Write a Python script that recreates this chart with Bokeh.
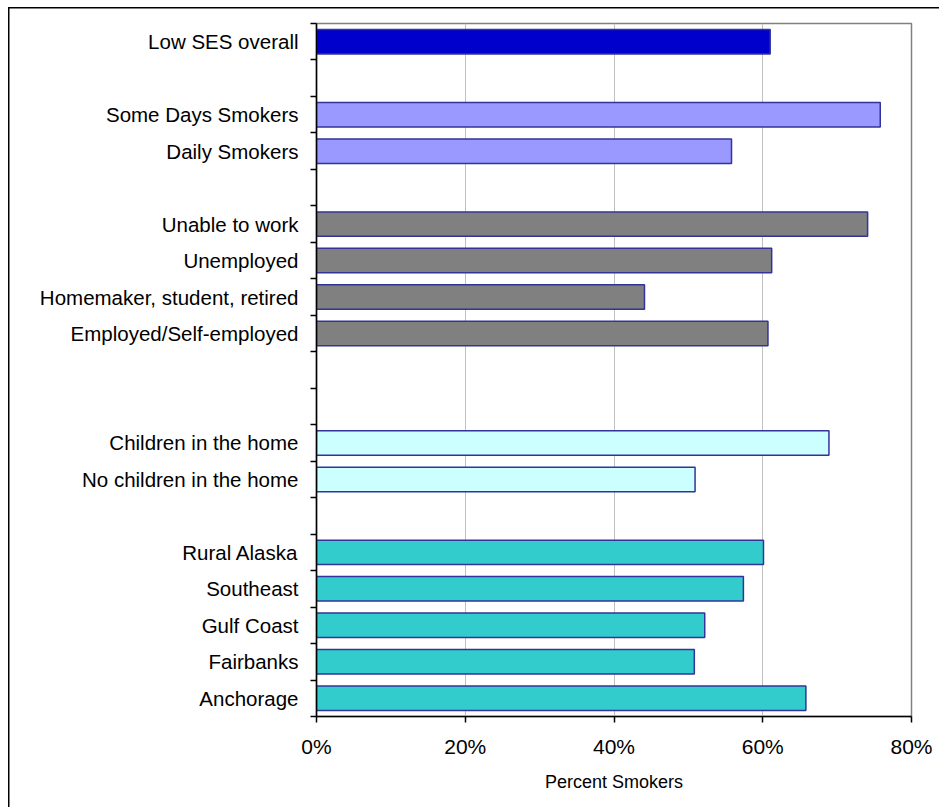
from bokeh.plotting import figure
from bokeh.models import Range1d, FixedTicker, PrintfTickFormatter, ColumnDataSource
from bokeh.embed import file_html
from bokeh.resources import INLINE

# Percent of low-SES Alaskan adults who smoke, by subgroup
overall_labels = ["Low SES overall"]
overall_pct = [61.0]

frequency_labels = ["Some Days Smokers", "Daily Smokers"]
frequency_pct = [75.8, 55.8]

employment_labels = ["Unable to work", "Unemployed",
                     "Homemaker, student, retired", "Employed/Self-employed"]
employment_pct = [74.1, 61.2, 44.1, 60.7]

children_labels = ["Children in the home", "No children in the home"]
children_pct = [68.9, 50.9]

region_labels = ["Rural Alaska", "Southeast", "Gulf Coast", "Fairbanks", "Anchorage"]
region_pct = [60.1, 57.4, 52.2, 50.8, 65.8]

x_ticks = [0, 20, 40, 60, 80]

# group order, fill colour, and number of empty rows that follow each group
groups = [
    (overall_labels, overall_pct, "#0000CC", 1),
    (frequency_labels, frequency_pct, "#9999FF", 1),
    (employment_labels, employment_pct, "#808080", 2),
    (children_labels, children_pct, "#CCFFFF", 1),
    (region_labels, region_pct, "#33CCCC", 0),
]

rows, vals, labels, colors = [], [], [], []
r = 0
for labs, pcts, col, gap in groups:
    for lab, v in zip(labs, pcts):
        rows.append(r + 0.5)
        vals.append(v)
        labels.append(lab)
        colors.append(col)
        r += 1
    r += gap
n_rows = r

src = ColumnDataSource(dict(y=rows, right=vals, color=colors, label=labels))

FONT = "Liberation Sans"

p = figure(width=939, height=807, output_backend="svg", toolbar_location=None,
           x_range=Range1d(0, 80), y_range=Range1d(n_rows, 0),
           min_border_left=316, min_border_right=28, min_border_top=23,
           min_border_bottom=91)
p.background_fill_color = "white"
# transparent surround so the page background (with the chart-area border) shows through
p.border_fill_color = None
p.styles = {
    "background": ("linear-gradient(#000, #000) 8px 7px / 1.5px 100% no-repeat, "
                   "linear-gradient(#000, #000) 8px 7px / 100% 1.5px no-repeat, #fff"),
}
p.outline_line_color = "#808080"
p.outline_line_width = 1.5

p.hbar(y="y", left=0, right="right", height=0.67, fill_color="color",
       line_color="#333399", line_width=1.5, source=src)

# x axis
xa = p.xaxis[0]
xa.ticker = FixedTicker(ticks=x_ticks, minor_ticks=[])
xa.formatter = PrintfTickFormatter(format="%d%%")
xa.axis_label = "Percent Smokers"
xa.axis_label_text_font = FONT
xa.axis_label_text_font_size = "18px"
xa.axis_label_text_font_style = "normal"
xa.axis_label_text_color = "black"
xa.axis_label_standoff = 11
xa.major_label_text_font = FONT
xa.major_label_text_font_size = "21px"
xa.major_label_text_color = "black"
xa.major_label_standoff = 12
xa.axis_line_color = "black"
xa.axis_line_width = 1.5
xa.major_tick_line_color = "black"
xa.major_tick_line_width = 1.5
xa.major_tick_out = 6
xa.major_tick_in = 0

# y axis: labels at row centres, tick marks on row boundaries
ya = p.yaxis[0]
ya.ticker = FixedTicker(ticks=rows, minor_ticks=list(range(n_rows + 1)))
ya.major_label_overrides = {y: lab for y, lab in zip(rows, labels)}
ya.major_label_text_font = FONT
ya.major_label_text_font_size = "20.5px"
ya.major_label_text_color = "black"
ya.major_label_standoff = 12
ya.major_tick_out = 0
ya.major_tick_in = 0
ya.minor_tick_out = 6
ya.minor_tick_in = 0
ya.minor_tick_line_color = "black"
ya.minor_tick_line_width = 1.5
ya.axis_line_color = "black"
ya.axis_line_width = 1.5

p.xgrid.ticker = FixedTicker(ticks=x_ticks)
p.xgrid.grid_line_color = "#C0C0C0"
p.xgrid.grid_line_width = 1
p.ygrid.grid_line_color = None

open("out.html", "w").write(file_html(p, INLINE))
